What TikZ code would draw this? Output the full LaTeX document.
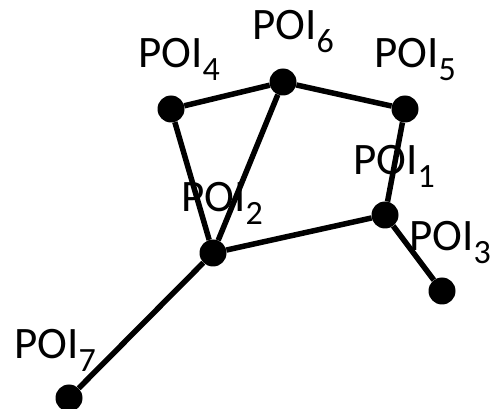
\documentclass[tikz,border=0pt]{standalone}
\usepackage{fontspec}
\setmainfont{Carlito}
\newcommand{\poi}[1]{POI\raisebox{-13pt}{\fontsize{34}{34}\selectfont #1}}
\begin{document}
\begin{tikzpicture}[x=1pt,y=-1pt,
  dot/.style={circle,fill=black,inner sep=0pt,minimum size=27pt},
  lbl/.style={anchor=base west,inner sep=0pt,font=\fontsize{45}{45}\selectfont},
  edge/.style={line width=5.5pt}]
\useasboundingbox (0,0) rectangle (491,409);
% points of interest
\node[dot] (p1) at (385,215) {};
\node[dot] (p2) at (213,253) {};
\node[dot] (p3) at (442,291) {};
\node[dot] (p4) at (171,109) {};
\node[dot] (p5) at (405,109) {};
\node[dot] (p6) at (283,82) {};
\node[dot] (p7) at (69,398) {};
% connections
\draw[edge] (p4) -- (p6) -- (p5);
\draw[edge] (p4) -- (p2) -- (p6);
\draw[edge] (p5) -- (p1) -- (p3);
\draw[edge] (p2) -- (p1);
\draw[edge] (p2) -- (p7);
% labels
\node[lbl] (l6) at (252,40) {\poi{6}};
\node[lbl] (l4) at (138,68) {\poi{4}};
\node[lbl] (l5) at (374,68) {\poi{5}};
\node[lbl] (l1) at (353,175) {\poi{1}};
\node[lbl] (l2) at (181,212) {\poi{2}};
\node[lbl] (l3) at (409,251) {\poi{3}};
\node[lbl] (l7) at (14,359) {\poi{7}};
\end{tikzpicture}
\end{document}
